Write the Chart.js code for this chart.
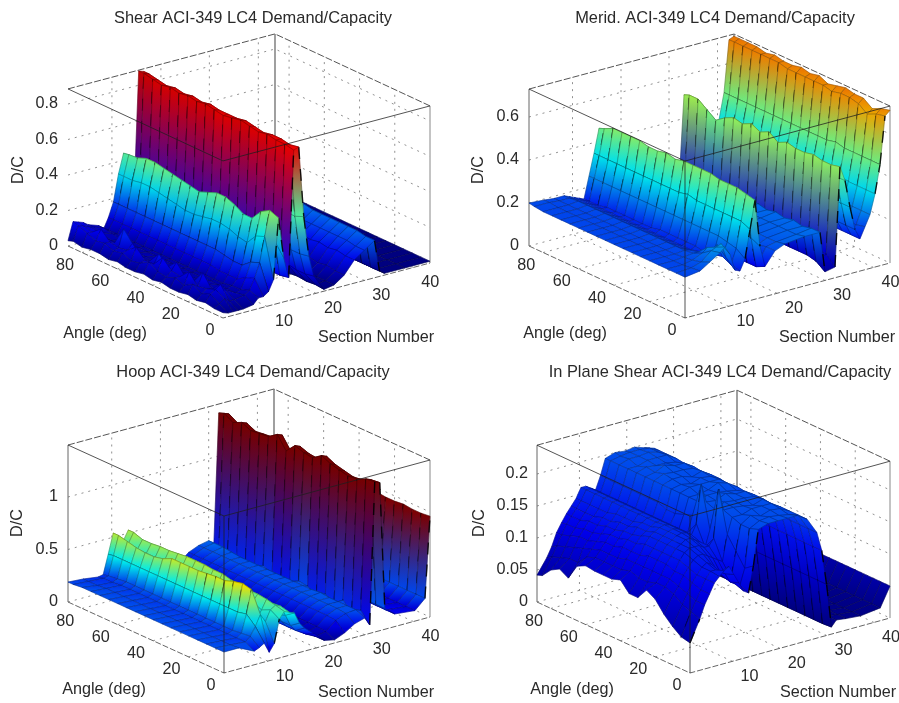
<!DOCTYPE html>
<html lang="en">
<head>
<meta charset="UTF-8">
<title>ACI-349 LC4 Demand/Capacity</title>
<script src="https://cdn.jsdelivr.net/npm/chart.js"></script>
<style>
    html, body { margin: 0; background: #fff; width: 899px; height: 703px; overflow: hidden; }
    canvas { position: absolute; filter: blur(0.5px); }
</style>
</head>
<body>
<canvas id="c1"></canvas>
<canvas id="c2"></canvas>
<canvas id="c3"></canvas>
<canvas id="c4"></canvas>
<script>
// values, each inner list runs over angles
const angles = [0,5,10,15,20,25,30,35,40,45,50,55,60,65,70,75,80,85,88];
const angleTicks = [0,20,40,60,80];
const sectionTicks = [8.7,18.4,28,37.7];
const sectionTickLabels = ['10','20','30','40'];

const shearSections = [0,1,2,3,4,6,7,8,9,10,11,12,13,14,15,16,17,18,20,22,24,26,28,30,31,32,36,41];
const shearZ = [
[.03,.03,.04,.03,.04,.03,.03,.04,.03,.04,.03,.03,.04,.03,.04,.04,.03,.04,.03],
[.02,.05,.08,.06,.09,.06,.08,.06,.07,.10,.07,.06,.08,.07,.09,.08,.10,.12,.13],
[.02,.07,.10,.08,.07,.13,.08,.09,.14,.08,.08,.13,.09,.08,.09,.14,.10,.11,.12],
[.02,.05,.12,.07,.14,.07,.07,.13,.08,.13,.07,.07,.12,.18,.08,.08,.10,.10,.11],
[.02,.05,.08,.05,.07,.06,.05,.06,.06,.07,.05,.06,.06,.08,.06,.06,.08,.09,.09],
[.03,.06,.05,.05,.05,.05,.05,.05,.05,.05,.05,.05,.05,.05,.05,.05,.06,.07,.07],
[.06,.08,.06,.06,.05,.05,.05,.05,.05,.05,.05,.05,.05,.05,.05,.05,.05,.05,.04],
[.06,.14,.12,.09,.09,.09,.10,.10,.10,.10,.10,.10,.10,.10,.10,.10,.10,.10,.10],
[.08,.22,.20,.16,.16,.17,.18,.18,.18,.18,.18,.18,.18,.18,.18,.18,.18,.18,.18],
[.14,.36,.34,.28,.29,.31,.32,.32,.31,.30,.30,.31,.32,.33,.34,.34,.33,.33,.33],
[.48,.50,.47,.41,.41,.44,.46,.46,.44,.42,.43,.44,.45,.46,.47,.47,.45,.445,.44],
[.25,.32,.30,.27,.27,.28,.29,.29,.28,.27,.28,.28,.29,.30,.30,.30,.29,.28,.28],
[.13,.12,.12,.13,.12,.12,.13,.12,.12,.13,.12,.12,.13,.12,.12,.13,.12,.12,.13],
[.84,.85,.85,.86,.85,.86,.87,.86,.85,.86,.87,.86,.87,.86,.87,.86,.87,.88,.88],
[.85,.84,.85,.85,.84,.85,.86,.85,.85,.85,.86,.85,.86,.85,.86,.85,.86,.87,.87],
[.45,.43,.43,.44,.43,.44,.44,.43,.44,.44,.43,.44,.43,.44,.44,.43,.44,.44,.43],
[.22,.21,.21,.22,.21,.22,.22,.21,.22,.22,.21,.22,.21,.22,.22,.21,.22,.22,.21],
[.10,.09,.09,.10,.09,.10,.10,.09,.10,.10,.09,.10,.09,.10,.10,.09,.10,.10,.09],
[.01,.015,.01,.015,.01,.015,.01,.015,.01,.015,.01,.015,.01,.015,.01,.015,.01,.015,.01],
[.02,.02,.02,.02,.02,.02,.02,.02,.02,.02,.02,.02,.02,.02,.02,.02,.02,.02,.02],
[.06,.06,.07,.06,.07,.06,.07,.06,.07,.06,.07,.06,.07,.06,.07,.06,.07,.06,.07],
[.13,.13,.14,.13,.14,.13,.14,.13,.14,.13,.14,.13,.14,.13,.14,.13,.14,.13,.14],
[.17,.17,.18,.18,.18,.18,.18,.18,.18,.18,.18,.18,.18,.18,.18,.18,.18,.18,.18],
[.21,.21,.22,.22,.22,.22,.22,.22,.23,.23,.23,.22,.22,.22,.22,.22,.22,.22,.22],
[.03,.03,.03,.03,.03,.03,.03,.03,.03,.03,.03,.03,.03,.03,.03,.03,.03,.03,.03],
[.01,.01,.01,.01,.01,.01,.01,.01,.01,.01,.01,.01,.01,.01,.01,.01,.01,.01,.01],
[.01,.01,.01,.01,.01,.01,.01,.01,.01,.01,.01,.01,.01,.01,.01,.01,.01,.01,.01],
[.01,.01,.01,.01,.01,.01,.01,.01,.01,.01,.01,.01,.01,.01,.01,.01,.01,.01,.01]
];

const meridSections = [0,3,5,7,8,9,10,11,12,13,14,15,16,18,20,24,27,28,30,31,32,33,34,35,36,37,38,39,40,41];
const meridZ = [
[.19,.19,.19,.19,.19,.19,.19,.19,.19,.19,.19,.19,.19,.19,.19,.19,.19,.195,.20],
[.20,.195,.19,.19,.19,.19,.19,.19,.19,.19,.19,.19,.19,.19,.19,.19,.19,.195,.195],
[.23,.21,.20,.195,.19,.19,.19,.19,.19,.19,.19,.19,.19,.19,.19,.19,.19,.19,.19],
[.26,.25,.22,.20,.195,.195,.195,.195,.195,.195,.195,.195,.195,.195,.195,.195,.195,.19,.19],
[.28,.26,.24,.20,.19,.18,.18,.18,.18,.18,.18,.18,.18,.18,.18,.18,.18,.18,.18],
[.24,.27,.20,.19,.17,.17,.17,.17,.17,.17,.17,.17,.17,.17,.17,.17,.17,.17,.17],
[.16,.20,.24,.19,.17,.16,.16,.16,.16,.16,.16,.16,.16,.16,.16,.16,.16,.16,.16],
[.15,.16,.18,.17,.16,.17,.17,.17,.17,.17,.16,.16,.16,.16,.16,.16,.15,.15,.15],
[.20,.23,.24,.25,.25,.25,.25,.25,.25,.25,.25,.25,.25,.25,.25,.25,.25,.25,.25],
[.33,.35,.35,.35,.35,.35,.35,.36,.35,.35,.35,.35,.35,.35,.35,.35,.35,.35,.35],
[.46,.47,.48,.48,.48,.49,.49,.49,.49,.48,.49,.48,.48,.49,.49,.49,.49,.47,.46],
[.24,.26,.26,.26,.26,.26,.26,.26,.26,.26,.26,.26,.26,.26,.26,.26,.26,.26,.26],
[.14,.12,.12,.12,.12,.12,.12,.12,.12,.12,.12,.12,.12,.12,.12,.12,.12,.12,.12],
[.20,.20,.19,.19,.19,.19,.19,.19,.19,.19,.19,.19,.19,.19,.19,.19,.19,.19,.19],
[.22,.21,.21,.21,.21,.21,.21,.21,.21,.21,.21,.21,.21,.21,.21,.21,.21,.21,.21],
[.23,.22,.22,.22,.22,.22,.22,.22,.22,.22,.22,.22,.22,.22,.22,.22,.22,.22,.22],
[.23,.23,.22,.23,.22,.23,.22,.23,.22,.23,.22,.23,.22,.23,.22,.23,.22,.23,.22],
[.04,.07,.08,.08,.08,.08,.08,.08,.08,.08,.08,.08,.08,.08,.08,.08,.08,.08,.08],
[.05,.09,.10,.10,.10,.10,.10,.10,.10,.10,.10,.10,.10,.10,.10,.10,.10,.10,.10],
[.51,.50,.50,.51,.50,.50,.51,.49,.52,.50,.52,.50,.51,.49,.46,.49,.52,.52,.51],
[.44,.44,.44,.44,.44,.44,.44,.44,.44,.44,.44,.44,.44,.44,.44,.44,.44,.44,.44],
[.31,.31,.31,.31,.31,.31,.31,.31,.31,.31,.31,.31,.31,.31,.31,.31,.31,.31,.31],
[.20,.20,.20,.20,.20,.20,.20,.20,.20,.20,.20,.20,.20,.20,.20,.20,.20,.20,.20],
[.15,.15,.15,.15,.15,.15,.15,.15,.15,.15,.15,.15,.15,.15,.15,.15,.15,.15,.15],
[.20,.19,.19,.19,.19,.19,.19,.19,.19,.19,.19,.19,.19,.19,.19,.19,.19,.19,.19],
[.25,.25,.25,.25,.25,.25,.25,.25,.25,.25,.25,.25,.25,.25,.25,.25,.25,.25,.25],
[.34,.34,.34,.34,.35,.35,.35,.35,.35,.35,.35,.35,.35,.35,.35,.35,.35,.35,.35],
[.47,.47,.47,.47,.47,.48,.47,.47,.47,.47,.47,.47,.47,.47,.47,.47,.47,.47,.47],
[.69,.68,.66,.69,.70,.70,.69,.70,.70,.70,.70,.70,.71,.71,.71,.71,.71,.71,.71],
[.71,.70,.68,.71,.71,.72,.71,.70,.72,.71,.72,.71,.71,.72,.71,.72,.72,.72,.72]
];

const hoopSections = [0,3,6,7,8,9,10,11,12,13,14,15,16,18,20,22,24,26,28,29,30,31,32,34,38,40,41];
const hoopZ = [
[.20,.20,.20,.20,.20,.20,.20,.20,.20,.20,.20,.20,.20,.20,.20,.20,.20,.19,.19],
[.20,.19,.19,.19,.19,.19,.19,.19,.19,.19,.19,.19,.19,.19,.19,.19,.18,.18,.18],
[.13,.18,.18,.18,.18,.18,.18,.18,.18,.18,.18,.18,.18,.18,.18,.18,.17,.17,.16],
[.15,.22,.21,.20,.20,.20,.20,.20,.20,.20,.20,.20,.20,.20,.20,.20,.19,.18,.17],
[.18,.30,.38,.36,.36,.36,.36,.36,.36,.36,.36,.36,.36,.36,.36,.36,.36,.36,.35],
[.08,.40,.60,.62,.60,.57,.57,.56,.55,.55,.55,.55,.51,.49,.49,.50,.52,.54,.54],
[.15,.32,.30,.45,.42,.40,.40,.40,.40,.40,.40,.40,.38,.38,.38,.38,.38,.38,.38],
[.37,.42,.38,.42,.40,.42,.42,.43,.43,.43,.44,.44,.42,.42,.42,.42,.42,.44,.44],
[.43,.45,.47,.48,.48,.49,.50,.52,.52,.53,.53,.53,.52,.51,.51,.50,.50,.53,.53],
[.41,.43,.42,.42,.40,.42,.42,.42,.42,.42,.42,.42,.42,.42,.42,.42,.42,.42,.42],
[.39,.33,.30,.32,.30,.30,.30,.30,.30,.30,.30,.30,.30,.30,.30,.30,.30,.30,.30],
[.28,.22,.22,.22,.22,.22,.22,.22,.22,.22,.22,.22,.22,.22,.22,.22,.22,.22,.22],
[.22,.16,.16,.16,.16,.16,.16,.16,.16,.16,.16,.16,.16,.16,.16,.16,.16,.16,.16],
[.14,.10,.10,.10,.10,.10,.10,.10,.10,.10,.10,.10,.10,.10,.10,.10,.10,.10,.10],
[.05,.05,.05,.05,.05,.05,.05,.05,.05,.05,.05,.05,.05,.05,.05,.05,.05,.05,.05],
[.03,.07,.08,.08,.08,.08,.08,.08,.08,.08,.08,.08,.08,.08,.08,.08,.08,.08,.08],
[.07,.15,.16,.16,.16,.16,.16,.16,.16,.16,.16,.16,.16,.16,.16,.16,.16,.16,.16],
[.13,.19,.20,.20,.20,.20,.20,.20,.20,.20,.20,.20,.20,.20,.20,.20,.20,.20,.20],
[.16,.20,.20,.20,.20,.21,.20,.20,.20,.20,.20,.20,.20,.20,.20,.21,.22,.22,.22],
[.08,.18,.12,.20,.14,.18,.12,.18,.19,.15,.13,.15,.18,.14,.16,.15,.16,.15,.14],
[1.43,1.42,1.38,1.37,1.39,1.41,1.45,1.39,1.40,1.43,1.34,1.46,1.40,1.39,1.38,1.42,1.38,1.43,1.41],
[1.41,1.40,1.36,1.35,1.37,1.39,1.43,1.37,1.38,1.41,1.32,1.44,1.38,1.37,1.36,1.40,1.36,1.41,1.39],
[.20,.20,.20,.20,.20,.20,.20,.20,.20,.20,.20,.20,.20,.20,.20,.20,.20,.20,.20],
[.12,.12,.12,.12,.12,.12,.12,.12,.12,.12,.12,.12,.12,.12,.12,.12,.12,.12,.12],
[.10,.10,.10,.10,.10,.10,.10,.10,.10,.10,.10,.10,.10,.10,.10,.10,.10,.10,.10],
[.19,.19,.19,.19,.19,.19,.19,.19,.19,.19,.19,.19,.19,.19,.19,.19,.19,.19,.19],
[.96,.95,.95,.96,.95,.95,.96,.95,.95,.95,.95,.95,.95,.95,.95,.95,.95,.95,.95]
];

const planeSections = [0,2,3,4,5,6,7,8,9,10,11,12,13,14,16,18,20,22,24,26,27,28,29,30,32,35,39,41];
const planeZ = [
[.047,.05,.06,.073,.09,.098,.08,.08,.095,.09,.09,.09,.092,.085,.06,.068,.06,.045,.042],
[.08,.085,.09,.10,.105,.105,.10,.10,.105,.10,.10,.10,.10,.095,.08,.08,.075,.07,.065],
[.10,.10,.105,.11,.115,.115,.115,.115,.115,.115,.11,.11,.11,.105,.10,.095,.09,.085,.08],
[.115,.115,.12,.125,.125,.13,.13,.13,.125,.125,.125,.12,.12,.115,.11,.11,.105,.10,.10],
[.13,.13,.13,.135,.14,.14,.14,.14,.14,.135,.135,.13,.13,.125,.12,.12,.115,.115,.113],
[.138,.14,.14,.145,.15,.15,.15,.15,.15,.145,.14,.14,.135,.135,.13,.13,.125,.125,.125],
[.145,.14,.145,.15,.155,.155,.155,.155,.155,.15,.15,.145,.145,.14,.14,.135,.135,.135,.135],
[.15,.135,.14,.15,.155,.16,.16,.16,.16,.155,.155,.15,.15,.15,.145,.145,.145,.145,.145],
[.135,.13,.13,.145,.155,.16,.162,.162,.162,.16,.16,.16,.16,.16,.16,.16,.16,.16,.16],
[.12,.115,.12,.14,.15,.155,.16,.16,.16,.16,.16,.16,.16,.16,.16,.16,.16,.16,.16],
[.105,.11,.115,.135,.15,.15,.155,.155,.155,.155,.155,.155,.155,.155,.155,.155,.155,.155,.155],
[.10,.105,.11,.13,.16,.14,.17,.15,.15,.15,.15,.15,.15,.15,.15,.15,.15,.15,.15],
[.14,.13,.15,.17,.235,.165,.23,.175,.17,.165,.165,.17,.17,.17,.17,.17,.17,.17,.17],
[.195,.19,.19,.195,.20,.195,.20,.195,.195,.195,.195,.195,.195,.195,.195,.195,.195,.195,.195],
[.20,.198,.20,.195,.20,.202,.198,.20,.195,.20,.198,.20,.202,.198,.20,.195,.20,.198,.20],
[.20,.20,.195,.20,.198,.20,.205,.20,.198,.20,.195,.20,.20,.205,.198,.20,.20,.20,.198],
[.20,.198,.20,.20,.195,.20,.20,.198,.205,.20,.20,.195,.20,.20,.198,.20,.202,.20,.20],
[.20,.195,.198,.20,.20,.198,.20,.195,.20,.20,.198,.20,.198,.20,.195,.20,.198,.198,.195],
[.19,.19,.19,.19,.188,.19,.19,.188,.19,.1875,.19,.19,.188,.19,.188,.19,.19,.19,.19],
[.165,.165,.165,.165,.165,.165,.165,.165,.165,.165,.165,.165,.165,.165,.165,.165,.165,.165,.165],
[.135,.135,.135,.135,.135,.135,.135,.135,.135,.135,.135,.135,.135,.135,.135,.135,.135,.135,.135],
[.08,.08,.08,.08,.08,.08,.08,.08,.08,.08,.08,.08,.08,.08,.08,.08,.08,.08,.08],
[.011,.01,.01,.01,.01,.01,.01,.01,.01,.01,.01,.01,.01,.01,.01,.01,.01,.01,.01],
[.02,.02,.02,.02,.02,.02,.02,.02,.02,.02,.02,.02,.02,.02,.02,.02,.02,.02,.02],
[.018,.018,.018,.018,.018,.018,.018,.018,.018,.018,.018,.018,.018,.018,.018,.018,.018,.018,.018],
[.016,.016,.016,.016,.016,.016,.016,.016,.016,.016,.016,.016,.016,.016,.016,.016,.016,.016,.016],
[.02,.02,.02,.02,.02,.02,.02,.02,.02,.02,.02,.02,.02,.02,.02,.02,.02,.02,.02],
[.05,.05,.05,.05,.05,.05,.05,.05,.05,.05,.05,.05,.05,.05,.05,.05,.05,.05,.05]
];

// one entry per subplot; page position of the box and of the text
const panels = [
    { id:'c1', left:0, top:0, width:506, height:351, titleTop:9, title:'Shear ACI-349 LC4 Demand/Capacity',
      sections:shearSections, z:shearZ, zTicks:[0,.2,.4,.6,.8], zLabels:['0','0.2','0.4','0.6','0.8'],
      front:[223,318], right:[430,263], leftC:[68,246], zScale:177.5, zMax:.885, frontEdges:false,
      darkSections:[9], zLabelX:58, dcX:19, dcY:170, angleXY:[105,334], sectionXY:[376,338] },
    { id:'c2', left:450, top:0, width:530, height:351, titleTop:9, title:'Merid. ACI-349 LC4 Demand/Capacity',
      sections:meridSections, z:meridZ, zTicks:[0,.2,.4,.6], zLabels:['0','0.2','0.4','0.6'],
      front:[685,318], right:[890,263], leftC:[529,246], zScale:215, zMax:.73, frontEdges:true,
      darkSections:[13,39], zLabelX:519, dcX:479, dcY:170, angleXY:[565,334], sectionXY:[837,338] },
    { id:'c3', left:0, top:352, width:506, height:351, titleTop:11, title:'Hoop ACI-349 LC4 Demand/Capacity',
      sections:hoopSections, z:hoopZ, zTicks:[0,.5,1], zLabels:['0','0.5','1'],
      front:[224,673], right:[430,617], leftC:[68,602], zScale:105, zMax:1.495, frontEdges:true,
      darkSections:[8], zLabelX:58, dcX:18, dcY:523, angleXY:[104,690], sectionXY:[376,693] },
    { id:'c4', left:450, top:352, width:540, height:351, titleTop:11, title:'In Plane Shear ACI-349 LC4 Demand/Capacity',
      sections:planeSections, z:planeZ, zTicks:[0,.05,.1,.15,.2], zLabels:['0','0.05','0.1','0.15','0.2'],
      front:[690,673], right:[890,618], leftC:[537,602], zScale:640, zMax:.245, frontEdges:true,
      darkSections:[], zLabelX:528, dcX:480, dcY:523, angleXY:[572,690], sectionXY:[838,693] }
];

const SECTION_MAX = 41, ANGLE_MAX = 88, TITLE_SIZE = 16.4;

function project(p, s, a, z) {
    return {
        x: p.front[0] + (p.right[0] - p.front[0]) * s / SECTION_MAX + (p.leftC[0] - p.front[0]) * a / ANGLE_MAX,
        y: p.front[1] + (p.right[1] - p.front[1]) * s / SECTION_MAX + (p.leftC[1] - p.front[1]) * a / ANGLE_MAX - p.zScale * z
    };
}

// matlab jet, z clamped to 0..1, a little darker like the scanned figure
function jet(v) {
    const t = Math.min(1, Math.max(0, v / 0.96));
    const ch = c => Math.round(235 * Math.min(1, Math.max(0, 1.5 - Math.abs(4 * t - c))));
    return `rgb(${ch(3)},${ch(2)},${ch(1)})`;
}

function lineDs(points, color, width, dash, dashOffset) {
    return { data: points, showLine: true, fill: false, pointRadius: 0, tension: 0,
             borderColor: color, borderWidth: width, borderDash: dash || [], borderDashOffset: dashOffset || 0 };
}

function backgroundLines(p) {
    const out = [];
    const grid = 'rgba(70,70,70,0.75)', edge = '#555';
    const zm = p.zMax;
    const wallA = (s, a, z) => project(p, s, a, z);
    // grid on the two back walls and the floor
    p.zTicks.slice(1).forEach(z => {
        out.push(lineDs([wallA(0,ANGLE_MAX,z), wallA(SECTION_MAX,ANGLE_MAX,z), wallA(SECTION_MAX,0,z)], grid, 0.8, [2,5]));
    });
    sectionTicks.forEach(s => {
        out.push(lineDs([wallA(s,0,0), wallA(s,ANGLE_MAX,0), wallA(s,ANGLE_MAX,zm)], grid, 0.8, [2,5]));
    });
    angleTicks.slice(1).forEach(a => {
        out.push(lineDs([wallA(0,a,0), wallA(SECTION_MAX,a,0), wallA(SECTION_MAX,a,zm)], grid, 0.8, [2,5]));
    });
    // box edges at the back
    out.push(lineDs([wallA(0,ANGLE_MAX,0), wallA(SECTION_MAX,ANGLE_MAX,0), wallA(SECTION_MAX,0,0)], grid, 0.8, [2,5]));
    out.push(lineDs([wallA(0,ANGLE_MAX,zm), wallA(SECTION_MAX,ANGLE_MAX,zm), wallA(SECTION_MAX,0,zm)], edge, 1, [7,2]));
    out.push(lineDs([wallA(SECTION_MAX,ANGLE_MAX,0), wallA(SECTION_MAX,ANGLE_MAX,zm)], '#777', 1.4));
    out.push(lineDs([wallA(SECTION_MAX,0,0), wallA(SECTION_MAX,0,zm)], '#888', 1));
    out.push(lineDs([wallA(0,ANGLE_MAX,0), wallA(0,0,0), wallA(SECTION_MAX,0,0)], '#666', 1, [6,2]));
    if (p.frontEdges) {
        out.push(lineDs([wallA(0,ANGLE_MAX,0), wallA(0,ANGLE_MAX,zm)], '#666', 1));
    }
    return out;
}

function surfaceQuads(p) {
    const out = [];
    const S = p.sections, Z = p.z;
    for (let i = S.length - 2; i >= 0; i--) {
        for (let j = angles.length - 2; j >= 0; j--) {
            const corners = [[i,j],[i+1,j],[i+1,j+1],[i,j+1]].map(c => ({
                z: Z[c[0]][c[1]],
                pt: project(p, S[c[0]], angles[c[1]], Z[c[0]][c[1]])
            }));
            const pts = corners.map(c => c.pt);
            const order = [0,1,2,3].sort((m, n) => corners[m].z - corners[n].z);
            const ds = lineDs([pts[0], pts[1], pts[2], pts[3], pts[0]], 'rgba(0,0,0,0.32)', 0.7);
            ds.lowPair = [order[0], order[1]];
            ds.highPair = [order[2], order[3]];
            ds.lowColor = jet((corners[order[0]].z + corners[order[1]].z) / 2);
            ds.highColor = jet((corners[order[2]].z + corners[order[3]].z) / 2);
            out.push(ds);
            // tall faces show the angle lines as dashes
            if (Math.abs(pts[0].y - pts[1].y) > 22) {
                out.push(lineDs([pts[0], pts[1]], 'rgba(0,0,0,0.85)', 1.4, [12,10], j % 2 ? 11 : 0));
            }
        }
        if (p.darkSections.includes(S[i])) {
            out.push(lineDs(angles.map((a, j) => project(p, S[i], a, Z[i][j])), 'rgba(0,0,0,0.6)', 0.8));
        }
    }
    return out;
}

function frontLines(p) {
    const zm = p.zMax;
    const out = [
        lineDs([project(p,0,ANGLE_MAX,zm), project(p,0,0,zm), project(p,SECTION_MAX,0,zm)], 'rgba(30,30,30,0.85)', 0.9)
    ];
    if (p.frontEdges) {
        out.push(lineDs([project(p,0,0,0), project(p,0,0,zm)], 'rgba(30,30,30,0.85)', 0.9));
    }
    return out;
}

// fills each surface cell before its mesh lines are stroked
const quadFill = {
    id: 'quadFill',
    beforeDatasetDraw(chart, args) {
        const ds = chart.data.datasets[args.index];
        if (!ds.lowColor) return;
        const el = args.meta.data, ctx = chart.ctx;
        const avgY = pair => (el[pair[0]].y + el[pair[1]].y) / 2;
        const y0 = avgY(ds.lowPair), y1 = avgY(ds.highPair);
        let fill = ds.highColor;
        if (Math.abs(y0 - y1) > 0.5) {
            fill = ctx.createLinearGradient(0, y0, 0, y1);
            fill.addColorStop(0, ds.lowColor);
            fill.addColorStop(1, ds.highColor);
        }
        ctx.save();
        ctx.beginPath();
        ctx.moveTo(el[0].x, el[0].y);
        for (let k = 1; k < 4; k++) ctx.lineTo(el[k].x, el[k].y);
        ctx.closePath();
        ctx.fillStyle = fill;
        ctx.fill();
        ctx.strokeStyle = fill;
        ctx.lineWidth = 0.5;
        ctx.stroke();
        ctx.restore();
    }
};

// tick labels and axis names, placed through the chart's scales
function axisText(p) {
    return {
        id: 'axisText',
        afterDraw(chart) {
            const ctx = chart.ctx, sx = chart.scales.x, sy = chart.scales.y;
            const put = (text, x, y, align) => {
                ctx.textAlign = align || 'center';
                ctx.fillText(text, sx.getPixelForValue(x), sy.getPixelForValue(y));
            };
            ctx.save();
            ctx.fillStyle = '#2a2a2a';
            ctx.textBaseline = 'middle';
            ctx.font = '16.2px "Liberation Sans", Arial, sans-serif';
            p.zTicks.forEach((z, i) => {
                const t = project(p, 0, ANGLE_MAX, z);
                put(p.zLabels[i], p.zLabelX, t.y, 'right');
            });
            angleTicks.forEach(a => {
                const t = project(p, 0, a, 0);
                put(String(a), t.x - (a === 0 ? 13 : 17), t.y + 13);
            });
            sectionTicks.forEach((s, i) => {
                const t = project(p, s, 0, 0);
                put(sectionTickLabels[i], t.x + 17, t.y + 15);
            });
            put('Angle (deg)', p.angleXY[0], p.angleXY[1]);
            put('Section Number', p.sectionXY[0], p.sectionXY[1]);
            ctx.translate(sx.getPixelForValue(p.dcX), sy.getPixelForValue(p.dcY));
            ctx.rotate(-Math.PI / 2);
            ctx.textAlign = 'center';
            ctx.fillText('D/C', 0, 0);
            ctx.restore();
        }
    };
}

panels.forEach(p => {
    const el = document.getElementById(p.id);
    el.width = p.width;
    el.height = p.height;
    el.style.left = p.left + 'px';
    el.style.top = p.top + 'px';

    const titleBottom = 3;
    const titleBox = p.titleTop + TITLE_SIZE * 1.2 + titleBottom;
    // built back to front, chart.js paints the first dataset last
    const datasets = [...backgroundLines(p), ...surfaceQuads(p), ...frontLines(p)].reverse();

    new Chart(el.getContext('2d'), {
        type: 'scatter',
        data: { datasets: datasets },
        options: {
            responsive: false,
            animation: false,
            parsing: false,
            events: [],
            layout: { padding: 0 },
            scales: {
                x: { type: 'linear', display: false, min: p.left, max: p.left + p.width },
                y: { type: 'linear', display: false, reverse: true, min: p.top + titleBox, max: p.top + p.height }
            },
            plugins: {
                legend: { display: false },
                tooltip: { enabled: false },
                title: {
                    display: true,
                    text: p.title,
                    color: '#2a2a2a',
                    font: { family: '"Liberation Sans", Arial, sans-serif', size: TITLE_SIZE, weight: 'normal' },
                    padding: { top: p.titleTop, bottom: titleBottom }
                }
            }
        },
        plugins: [quadFill, axisText(p)]
    });
});
</script>
</body>
</html>
